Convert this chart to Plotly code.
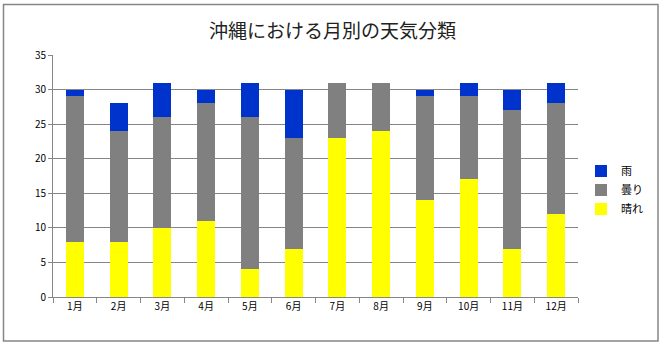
import plotly.graph_objects as go

months = ["1月", "2月", "3月", "4月", "5月", "6月", "7月", "8月", "9月", "10月", "11月", "12月"]
sunny = [8, 8, 10, 11, 4, 7, 23, 24, 14, 17, 7, 12]
cloudy = [21, 16, 16, 17, 22, 16, 8, 7, 15, 12, 20, 16]
rain = [1, 4, 5, 2, 5, 7, 0, 0, 1, 2, 3, 3]
y_ticks = [0, 5, 10, 15, 20, 25, 30, 35]

FONT = "Noto Sans CJK JP"
W, H = 665, 353
L, R, T, B = 53, 87, 55, 56
pw, ph = W - L - R, H - T - B

fig = go.Figure()
fig.add_trace(go.Bar(x=months, y=sunny, name="晴れ", marker=dict(color="#FFFF00", line=dict(width=0))))
fig.add_trace(go.Bar(x=months, y=cloudy, name="曇り", marker=dict(color="#808080", line=dict(width=0))))
fig.add_trace(go.Bar(x=months, y=rain, name="雨", marker=dict(color="#0033CC", line=dict(width=0))))

# outer border
fig.add_shape(type="rect", xref="paper", yref="paper",
              x0=(3.5 - L) / pw, x1=(658 - L) / pw,
              y0=(H - B - 341) / ph, y1=(H - B - 4.5) / ph,
              line=dict(color="#868686", width=1.5), fillcolor="rgba(0,0,0,0)", layer="below")

fig.update_layout(
    width=W, height=H,
    margin=dict(l=L, r=R, t=T, b=B),
    barmode="stack", bargap=0.59,
    paper_bgcolor="white", plot_bgcolor="white",
    font=dict(family=FONT, color="#000000"),
    title=dict(text="沖縄における月別の天気分類", x=0.5, xanchor="center", xref="container",
               y=1 - 31 / H, yanchor="middle", yref="container",
               font=dict(family=FONT, size=19, color="#222222")),
    legend=dict(x=(581 - L) / pw, xanchor="left", y=(H - B - 190) / ph, yanchor="middle",
                traceorder="reversed", font=dict(family=FONT, size=11, color="#000000"),
                itemwidth=30, tracegroupgap=0,
                bgcolor="rgba(0,0,0,0)", itemclick=False),
    xaxis=dict(type="category", showgrid=False, showline=True, linecolor="#868686", linewidth=1,
               ticks="outside", tickson="boundaries", ticklen=5, tickcolor="#868686",
               tickfont=dict(family=FONT, size=10, color="#000000")),
    yaxis=dict(range=[0, 35], tickvals=y_ticks, showgrid=True, gridcolor="#868686", gridwidth=1,
               showline=True, linecolor="#868686", linewidth=1, ticks="outside", ticklen=4,
               tickcolor="#868686", zeroline=False,
               tickfont=dict(family=FONT, size=10, color="#000000")),
)

fig.write_html("out.html")
